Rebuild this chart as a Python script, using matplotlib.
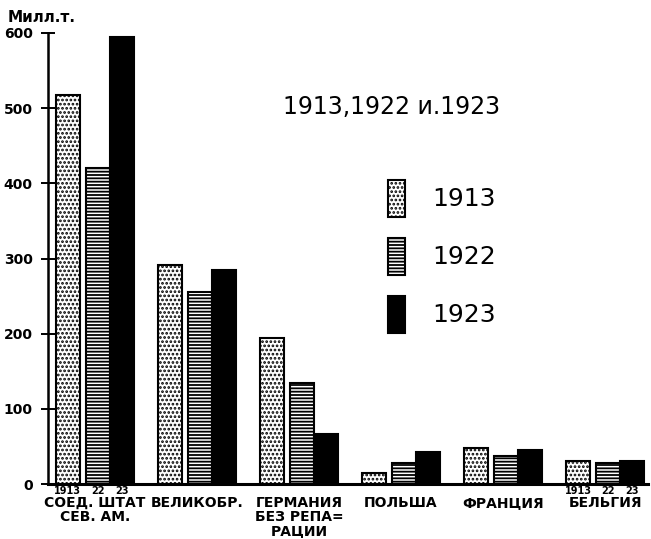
import matplotlib
matplotlib.use("Agg")
import matplotlib.pyplot as plt
import numpy as np

countries = ["СОЕД. ШТАТ\nСЕВ. АМ.", "ВЕЛИКОБР.", "ГЕРМАНИЯ\nБЕЗ РЕПА=\nРАЦИИ",
             "ПОЛЬША", "ФРАНЦИЯ", "БЕЛЬГИЯ"]
years = ["1913", "1922", "1923"]
v1913 = [517, 292, 194, 15, 48, 30]
v1922 = [420, 255, 134, 28, 37, 28]
v1923 = [595, 285, 66, 42, 45, 30]
yticks = [0, 100, 200, 300, 400, 500, 600]

plt.rcParams['hatch.linewidth'] = 1.3
plt.rcParams['font.family'] = ['DejaVu Sans']

fig = plt.figure(figsize=(6.51, 5.39), dpi=100)
ax = fig.add_axes([48 / 651, 55 / 539, 600 / 651, 451 / 539])

x = np.arange(len(countries))
w = 0.235
offs = [-0.265, 0.03, 0.265]
styles = [dict(facecolor="white", hatch="...."),
          dict(facecolor="white", hatch="-----"),
          dict(facecolor="black")]
for vals, off, st, yr in zip([v1913, v1922, v1923], offs, styles, years):
    ax.bar(x + off, vals, width=w, edgecolor="black", linewidth=1.5,
           label=yr, **st)

ax.set_xlim(-0.46, 5.42)
ax.set_ylim(0, 600)
for s in ["top", "right"]:
    ax.spines[s].set_visible(False)
ax.spines["left"].set_linewidth(1.8)
ax.spines["bottom"].set_linewidth(2.2)
ax.set_yticks(yticks)
ax.set_yticklabels([str(t) for t in yticks], fontsize=10, fontweight="bold")
ax.tick_params(axis="y", direction="inout", length=10, width=1.4, pad=6)
ax.set_xticks([])

# country names
for xi, name in zip(x, countries):
    ax.text(xi, -16, name, ha="center", va="top", fontsize=10,
            fontweight="bold", linespacing=1.0)

# small year labels under USA and Belgium
for gi in [0, 5]:
    for off, lab in zip(offs, ["1913", "22", "23"]):
        ax.text(gi + off, -2, lab, ha="center", va="top", fontsize=7,
                fontweight="bold")

fig.text(8 / 651, 1 - 17 / 539, "Милл.т.", fontsize=11, fontweight="bold",
         va="center", ha="left")

ax.text(392 / 651, 1 - 107 / 539, "1913,1922 и.1923", transform=fig.transFigure,
        fontsize=17, ha="center", va="center")

leg = ax.legend(loc="upper left", bbox_to_anchor=((365 - 48) / 600, (484 - 157) / 451),
                frameon=False, fontsize=18, handlelength=0.7, handleheight=1.9,
                labelspacing=0.85, handletextpad=1.1)

fig.savefig("out.png", dpi=100)
